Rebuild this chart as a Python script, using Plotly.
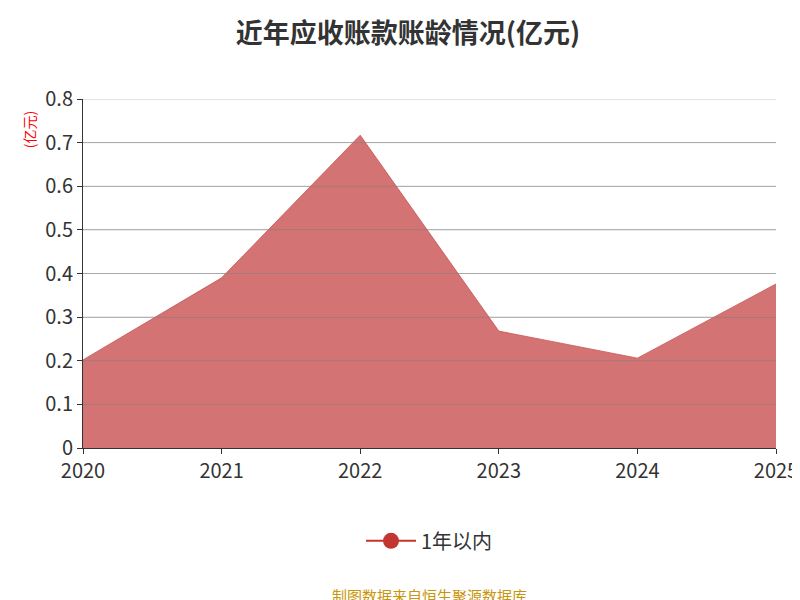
import plotly.graph_objects as go

years = ["2020", "2021", "2022", "2023", "2024", "2025"]
values = [0.202, 0.39, 0.717, 0.268, 0.206, 0.376]
series_name = "1年以内"
yticks = [0, 0.1, 0.2, 0.3, 0.4, 0.5, 0.6, 0.7, 0.8]
ytick_text = ["0", "0.1", "0.2", "0.3", "0.4", "0.5", "0.6", "0.7", "0.8"]

font = "Noto Sans CJK SC"
fig = go.Figure()
fig.add_trace(go.Scatter(
    x=[int(y) for y in years], y=values, name=series_name, mode="lines",
    line=dict(color="rgba(200,80,80,0.8)", width=1),
    fill="tozeroy", fillcolor="rgba(200,80,80,0.8)", showlegend=False))
fig.add_trace(go.Scatter(
    x=[None], y=[None], name=series_name, mode="lines+markers",
    line=dict(color="#c23531", width=2), marker=dict(size=20, color="#c23531")))

fig.update_layout(
    width=800, height=600, plot_bgcolor="white", paper_bgcolor="white",
    margin=dict(l=75, r=32, t=91, b=160, autoexpand=False),
    font=dict(family=font, color="#333"),
    title=dict(text="<b>近年应收账款账龄情况(亿元)</b>", x=0.5, xanchor="center",
               y=0.958, yanchor="middle", font=dict(size=27, color="#333")),
    xaxis=dict(range=[2020, 2025], tickvals=[int(y) for y in years], ticktext=years,
               showgrid=False, showline=True, linecolor="#333", ticks="outside",
               ticklen=5, tickcolor="#333", tickfont=dict(size=20, color="#333"),
               automargin=False),
    yaxis=dict(range=[0, 0.8], tickvals=yticks, ticktext=ytick_text,
               showgrid=True, gridcolor="rgba(140,140,140,0.5)",
               showline=True, linecolor="#333", ticks="outside", ticklen=5,
               tickcolor="#333", tickfont=dict(size=20, color="#333"), zeroline=False,
               automargin=False),
    legend=dict(orientation="h", x=0.5, xanchor="center", y=-0.266, yanchor="middle",
                font=dict(size=20, color="#333"), itemwidth=50),
    annotations=[
        dict(text="(亿元)", xref="paper", yref="paper", x=-0.095, y=0.97, yanchor="top",
             textangle=-90, showarrow=False, font=dict(size=14, color="red")),
        dict(text="制图数据来自恒生聚源数据库", xref="paper", yref="paper", x=0.5,
             y=-0.424, yanchor="middle", showarrow=False, font=dict(size=15, color="#c8960c")),
    ],
)
for v in yticks[1:]:
    fig.add_shape(type="line", xref="paper", x0=0, x1=1, yref="y", y0=v, y1=v,
                  line=dict(color="rgba(140,140,140,0.5)", width=1), layer="above")
fig.write_html("out.html")
